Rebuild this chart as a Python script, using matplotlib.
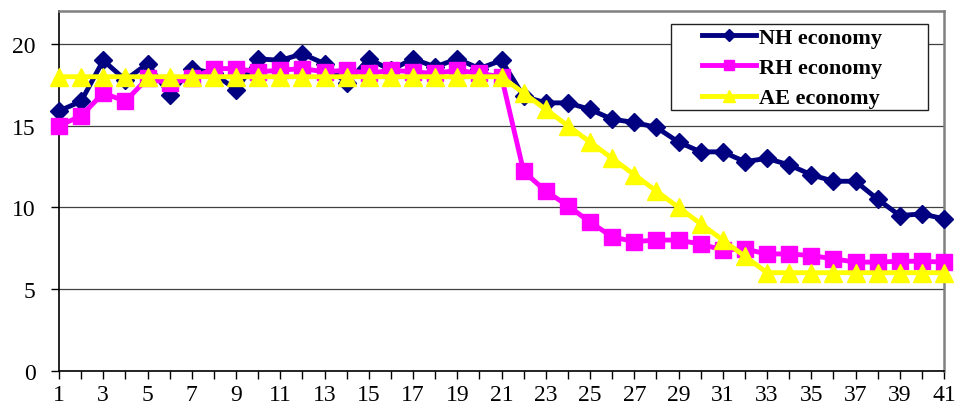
import matplotlib
matplotlib.use("Agg")
import matplotlib.pyplot as plt
from matplotlib.patches import Rectangle

# Period index
periods = list(range(1, 42))

nh_economy = [15.9, 16.5, 19.0, 17.8, 18.8, 16.9, 18.5, 18.2, 17.2, 19.1,
              19.0, 19.4, 18.8, 17.6, 19.1, 18.4, 19.1, 18.6, 19.1, 18.5,
              19.0, 16.8, 16.4, 16.4, 16.0, 15.4, 15.2, 14.9, 14.0, 13.4,
              13.4, 12.8, 13.0, 12.6, 12.0, 11.6, 11.6, 10.5, 9.5, 9.6,
              9.3]

rh_economy = [15.0, 15.6, 17.0, 16.5, 17.9, 17.6, 17.9, 18.5, 18.5, 18.3,
              18.4, 18.5, 18.3, 18.4, 18.2, 18.4, 18.3, 18.2, 18.4, 18.2,
              18.0, 12.2, 11.0, 10.1, 9.1, 8.2, 7.9, 8.0, 8.0, 7.75,
              7.4, 7.45, 7.15, 7.15, 7.05, 6.85, 6.65, 6.65, 6.7, 6.7,
              6.65]

ae_economy = [18] * 21 + [17, 16, 15, 14, 13, 12, 11, 10, 9, 8, 7] + [6] * 9

series_labels = ["NH economy", "RH economy", "AE economy"]
x_tick_labels = [str(p) if p % 2 == 1 else "" for p in periods]
y_ticks = [0, 5, 10, 15, 20]

plt.rcParams["font.family"] = ["Liberation Serif", "DejaVu Serif"]

W, H = 956, 410
fig = plt.figure(figsize=(W / 100, H / 100), dpi=100)
ax = fig.add_axes([59 / W, 1 - 371.7 / H, (944 - 59) / W, (371.7 - 12.4) / H])

common = dict(lw=3.5, clip_on=False, markeredgewidth=1)
ax.plot(periods, nh_economy, color="#000080", marker="D", ms=9.5,
        markeredgecolor="#000080", label=series_labels[0], zorder=4, **common)
ax.plot(periods, rh_economy, color="#FF00FF", marker="s", ms=12,
        markeredgecolor="#FF00FF", label=series_labels[1], zorder=5, **common)
ax.plot(periods, ae_economy, color="#FFFF00", marker="^", ms=13.5,
        markeredgecolor="#FFFF00", label=series_labels[2], zorder=6, **common)

ax.set_xlim(1, 41)
ax.set_ylim(0, 22)
ax.set_xticks(periods)
ax.set_xticklabels(x_tick_labels)
ax.set_yticks(y_ticks)

ax.tick_params(axis="both", direction="out", labelsize=17, colors="black",
               width=1, length=6)
ax.tick_params(axis="x", pad=3.5)
ax.tick_params(axis="y", pad=11)

ax.set_axisbelow(True)
ax.yaxis.grid(True, color="#404040", lw=0.9)

for side in ("left", "bottom"):
    ax.spines[side].set_color("black")
    ax.spines[side].set_linewidth(1.2)
for side in ("top", "right"):
    ax.spines[side].set_color("#808080")
    ax.spines[side].set_linewidth(1.8)

# Legend box and entries
fig.patches.append(Rectangle((671 / W, 1 - 111 / H), (928 - 671) / W, (111 - 25) / H,
                             transform=fig.transFigure, facecolor="white",
                             edgecolor="#202020", lw=1.0, zorder=3))
handles, labels = ax.get_legend_handles_labels()
leg = fig.legend(handles, labels, loc="upper left",
                 bbox_to_anchor=(702 / W, 1 - 28.5 / H),
                 bbox_transform=fig.transFigure, frameon=False,
                 prop={"family": "Liberation Serif", "weight": "bold", "size": 16},
                 handlelength=2.45, handletextpad=0.1, labelspacing=0.43,
                 borderpad=0, borderaxespad=0, markerscale=0.6, numpoints=1)
leg.set_zorder(5)

fig.savefig("out.png", dpi=100)
